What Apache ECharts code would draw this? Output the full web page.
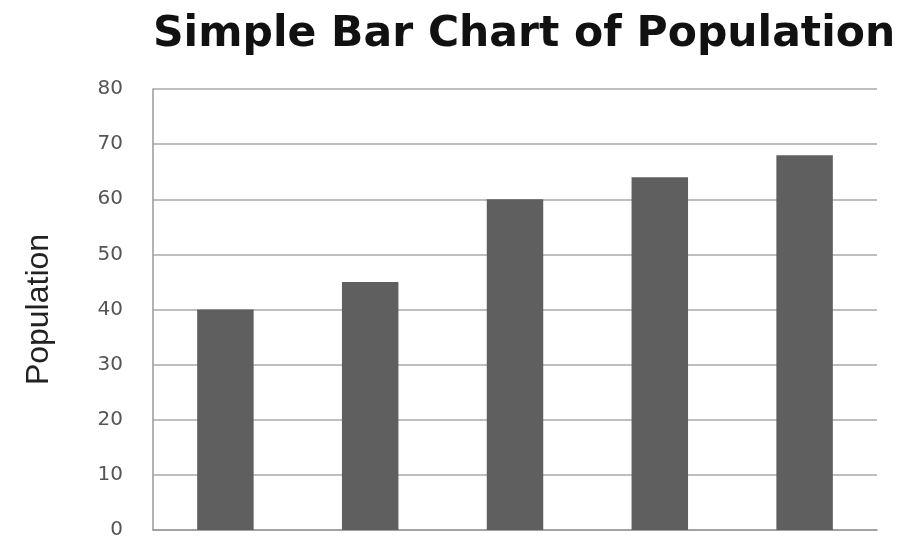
<!DOCTYPE html>
<html>
<head>
<meta charset="utf-8">
<script src="https://cdn.jsdelivr.net/npm/echarts@6/dist/echarts.min.js"></script>
<style>
html,body{margin:0;padding:0;background:#fff;}
#main{width:899px;height:542px;}
</style>
</head>
<body>
<div id="main"></div>
<script>
// 数据
var categories = ['A', 'B', 'C', 'D', 'E'];
var population = [40, 45, 60, 64, 68];

var myChart = echarts.init(document.getElementById('main'));

var option = {
    backgroundColor: '#fff',
    animation: false,
    title: {
        text: 'Simple Bar Chart of Population',
        left: 153,
        top: 13,
        padding: 0,
        textStyle: {
            fontFamily: 'DejaVu Sans',
            fontWeight: 'bold',
            fontSize: 42.5,
            color: '#111'
        }
    },
    grid: {
        left: 153,
        right: 22,
        top: 89,
        bottom: 12
    },
    xAxis: {
        type: 'category',
        data: categories,
        axisLine: {lineStyle: {color: '#999', width: 1.5}},
        axisTick: {show: false},
        axisLabel: {show: false}
    },
    yAxis: {
        type: 'value',
        min: 0,
        max: 80,
        interval: 10,
        name: 'Population',
        nameLocation: 'middle',
        nameGap: 98,
        nameTextStyle: {
            fontFamily: 'Liberation Sans',
            fontSize: 32,
            color: '#222'
        },
        axisLine: {show: true, lineStyle: {color: '#999', width: 1.5}},
        axisTick: {show: false},
        axisLabel: {
            margin: 30,
            fontFamily: 'DejaVu Sans',
            fontSize: 20,
            color: '#555'
        },
        splitLine: {lineStyle: {color: '#a8a8a8', width: 1.5}}
    },
    series: [{
        type: 'bar',
        data: population,
        barWidth: '39%',
        itemStyle: {color: '#5f5f5f'}
    }]
};

myChart.setOption(option);
</script>
</body>
</html>
